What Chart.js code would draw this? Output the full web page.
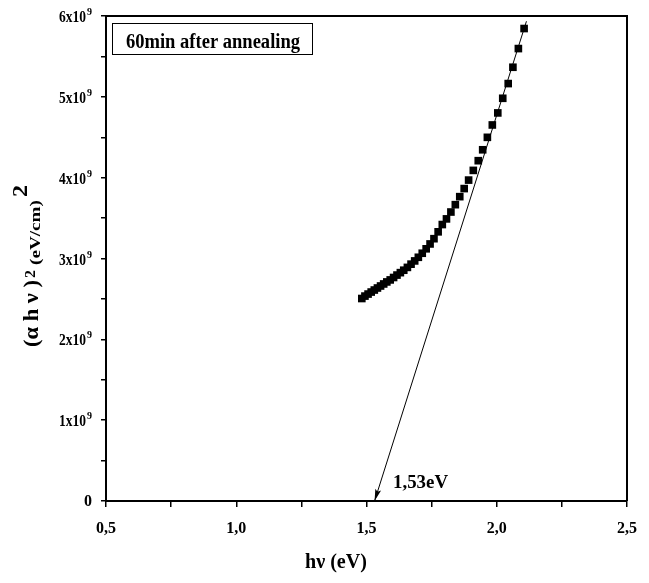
<!DOCTYPE html>
<html>
<head>
<meta charset="utf-8">
<script src="https://cdn.jsdelivr.net/npm/chart.js@4"></script>
<style>
  body { margin: 0; background: #fff; }
  canvas { display: block; }
</style>
</head>
<body>
<canvas id="plot-tauc" width="649" height="583"></canvas>
<script>
// photon energy hv (eV) of each measured point
var hv_values = [1.482, 1.494, 1.506, 1.518, 1.530, 1.542, 1.554, 1.566, 1.578, 1.591,
  1.604, 1.617, 1.630, 1.643, 1.657, 1.671, 1.685, 1.699, 1.714, 1.729,
  1.744, 1.759, 1.775, 1.791, 1.807, 1.824, 1.841, 1.858, 1.875, 1.892,
  1.910, 1.929, 1.946, 1.964, 1.983, 2.004, 2.023, 2.044, 2.062, 2.083, 2.105];
// (alpha h v)^2 in units of 10^9 (eV/cm)^2
var ahv2_values = [2.505, 2.535, 2.560, 2.585, 2.610, 2.635, 2.660, 2.685, 2.710, 2.735,
  2.765, 2.795, 2.825, 2.855, 2.890, 2.930, 2.970, 3.015, 3.065, 3.120,
  3.180, 3.245, 3.330, 3.420, 3.490, 3.575, 3.666, 3.765, 3.865, 3.970,
  4.090, 4.210, 4.345, 4.499, 4.652, 4.801, 4.982, 5.164, 5.366, 5.597, 5.845];

// linear fit extrapolated to the axis (arrow ends at the gap energy)
var fit_x = [2.114, 1.531];
var fit_y = [5.935, 0];

// tick labels
var x_tick_values = [0.5, 1.0, 1.5, 2.0, 2.5];
var x_tick_labels = ["0,5", "1,0", "1,5", "2,0", "2,5"];
var y_tick_values = [0, 1, 2, 3, 4, 5, 6];
var y_tick_labels = ["0", "1x10", "2x10", "3x10", "4x10", "5x10", "6x10"];
var y_tick_exp = "9";

var gap_label = "1,53eV";
var box_label = "60min after annealing";

var serif = '"Liberation Serif", "Times New Roman", serif';

// draw text squeezed/stretched to a given width
function fit_text(ctx, text, x, y, width, align) {
  var w = ctx.measureText(text).width;
  var sx = width / w;
  ctx.save();
  ctx.translate(x, y);
  ctx.scale(sx, 1);
  ctx.textAlign = align || "left";
  ctx.fillText(text, 0, 0);
  ctx.restore();
}

var overlay_plugin = {
  id: "overlay",
  afterDraw: function(chart) {
    var ctx = chart.ctx;
    var xs = chart.scales.x;
    var ys = chart.scales.y;
    var a = chart.chartArea;
    ctx.save();
    ctx.fillStyle = "#000";
    ctx.strokeStyle = "#000";

    // top and right frame
    ctx.lineWidth = 2;
    ctx.beginPath();
    ctx.moveTo(a.left, a.top);
    ctx.lineTo(a.right, a.top);
    ctx.lineTo(a.right, a.bottom);
    ctx.stroke();

    // x tick labels
    ctx.font = "bold 16px " + serif;
    ctx.textBaseline = "alphabetic";
    ctx.textAlign = "center";
    for (var i = 0; i < x_tick_values.length; i++) {
      ctx.fillText(x_tick_labels[i], xs.getPixelForValue(x_tick_values[i]), a.bottom + 32);
    }

    // y tick labels with superscript exponent
    for (var j = 0; j < y_tick_values.length; j++) {
      var py = ys.getPixelForValue(y_tick_values[j]);
      var right = a.left - 14;
      ctx.textAlign = "right";
      if (y_tick_values[j] == 0) {
        ctx.font = "bold 16px " + serif;
        fit_text(ctx, y_tick_labels[j], right, py + 5, 8, "right");
        continue;
      }
      ctx.font = "bold 10px " + serif;
      var ew = ctx.measureText(y_tick_exp).width;
      ctx.fillText(y_tick_exp, right, py - 1);
      ctx.font = "bold 16px " + serif;
      fit_text(ctx, y_tick_labels[j], right - ew - 1, py + 6, 27, "right");
    }

    // arrow head at the lower end of the fit line
    var tx = xs.getPixelForValue(fit_x[1]);
    var ty = ys.getPixelForValue(fit_y[1]);
    var ux = xs.getPixelForValue(fit_x[0]) - tx;
    var uy = ys.getPixelForValue(fit_y[0]) - ty;
    var len = Math.sqrt(ux * ux + uy * uy);
    ux /= len; uy /= len;
    var hl = 12, hw = 3;
    ctx.beginPath();
    ctx.moveTo(tx, ty);
    ctx.lineTo(tx + ux * hl - uy * hw, ty + uy * hl + ux * hw);
    ctx.lineTo(tx + ux * hl * 0.8, ty + uy * hl * 0.8);
    ctx.lineTo(tx + ux * hl + uy * hw, ty + uy * hl - ux * hw);
    ctx.closePath();
    ctx.fill();

    // gap energy label
    ctx.font = "bold 19px " + serif;
    fit_text(ctx, gap_label, 393, 488, 55, "left");

    // sample label box
    ctx.lineWidth = 1;
    ctx.strokeRect(112.5, 23.5, 200, 31);
    ctx.font = "bold 20px " + serif;
    fit_text(ctx, box_label, 126, 48, 174, "left");

    // x axis title
    ctx.font = "bold 20px " + serif;
    fit_text(ctx, "h\u03bd (eV)", 305, 568, 62, "left");

    // y axis title, rotated
    ctx.translate(39, 347);
    ctx.rotate(-Math.PI / 2);
    ctx.font = "bold 22px " + serif;
    fit_text(ctx, "(\u03b1 h \u03bd )", 0, -1, 67, "left");
    ctx.font = "bold 14px " + serif;
    fit_text(ctx, "2", 69, -4, 8, "left");
    ctx.font = "bold 15px " + serif;
    fit_text(ctx, "(eV/cm)", 82, 1, 65, "left");
    ctx.font = "bold 20px " + serif;
    fit_text(ctx, "2", 150, -12, 12, "left");

    ctx.restore();
  }
};

var points = [];
for (var k = 0; k < hv_values.length; k++) {
  points.push({x: hv_values[k], y: ahv2_values[k]});
}
var fit_points = [];
for (var m = 0; m < fit_x.length; m++) {
  fit_points.push({x: fit_x[m], y: fit_y[m]});
}

var tauc_chart = new Chart("plot-tauc", {
  type: "scatter",
  data: {
    datasets: [{
      data: fit_points,
      showLine: true,
      borderColor: "#000",
      borderWidth: 1,
      pointRadius: 0
    },
    {
      data: points,
      showLine: false,
      pointStyle: "rect",
      pointRadius: 5.4,
      pointBorderWidth: 0,
      backgroundColor: "#000",
      borderColor: "#000"
    }]
  },
  options: {
    responsive: false,
    animation: false,
    layout: {padding: {left: 101, right: 22, top: 16, bottom: 76}},
    plugins: {
      legend: {display: false},
      tooltip: {enabled: false}
    },
    scales: {
      x: {
        type: "linear",
        min: 0.5,
        max: 2.5,
        ticks: {display: false, stepSize: 0.25},
        grid: {drawOnChartArea: false, tickLength: 6, color: "#000", lineWidth: 1.5},
        border: {color: "#000", width: 2}
      },
      y: {
        min: 0,
        max: 6,
        ticks: {display: false, stepSize: 0.5},
        grid: {drawOnChartArea: false, tickLength: 5, color: "#000", lineWidth: 1.5},
        border: {color: "#000", width: 2}
      }
    }
  },
  plugins: [overlay_plugin]
});
</script>
</body>
</html>
